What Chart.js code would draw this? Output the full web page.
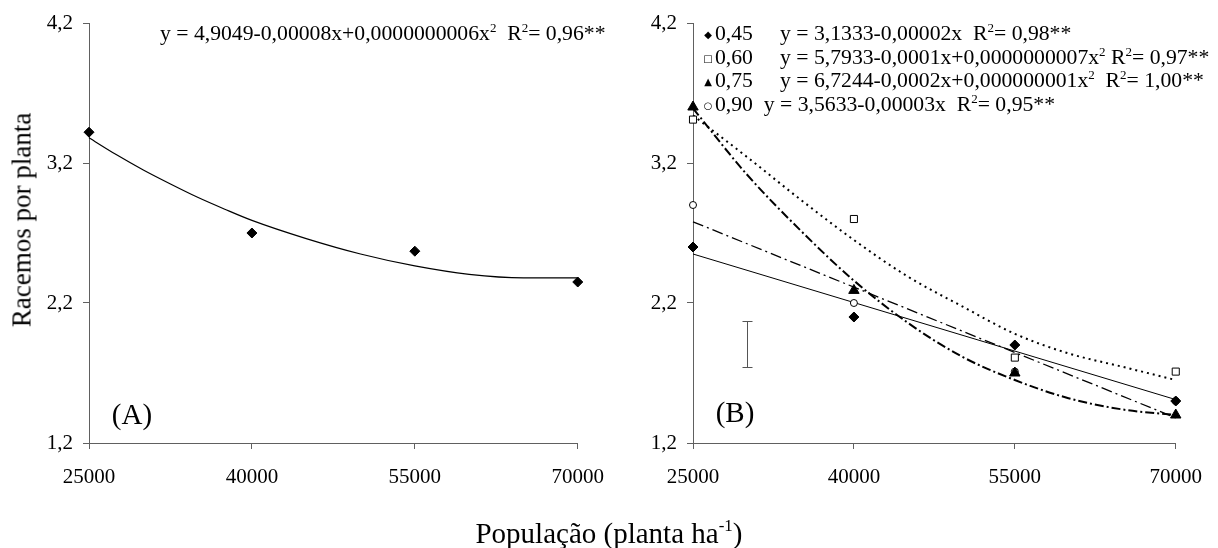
<!DOCTYPE html>
<html>
<head>
<meta charset="utf-8">
<script src="https://cdn.jsdelivr.net/npm/chart.js@4"></script>
<style>
  body { margin: 0; background: #fff; width: 1218px; height: 548px; position: relative; overflow: hidden;
         font-family: 'Liberation Serif', 'Times New Roman', serif; color: #000; }
  canvas { position: absolute; top: 0; }
  #cA { left: 0; }
  #cB { left: 620px; }
  .t { position: absolute; white-space: pre; font-size: 21.7px; line-height: 24px; }
  .t sup { font-size: 13px; vertical-align: 8px; line-height: 0; }
  .sym { display: inline-block; width: 14px; text-align: center; font-family: 'DejaVu Sans', sans-serif; font-size: 10px; vertical-align: 2px; }
  .titulo { position: absolute; white-space: pre; transform: translate(-50%, -50%); }
  .titulo sup { font-size: 17px; vertical-align: 12px; line-height: 0; }
  .painel { position: absolute; font-size: 29px; transform: translate(-50%, -50%); }
</style>
</head>
<body>
<canvas id="cA" width="620" height="548"></canvas>
<canvas id="cB" width="598" height="548"></canvas>

<div class="t" style="left:160px; top:21px">y = 4,9049-0,00008x+0,0000000006x<sup>2</sup>  R<sup>2</sup>= 0,96**</div>

<div class="t" style="left:701px; top:21px"><span class="sym">◆</span>0,45     y = 3,1333-0,00002x  R<sup>2</sup>= 0,98**</div>
<div class="t" style="left:701px; top:45px"><span class="sym">□</span>0,60     y = 5,7933-0,0001x+0,0000000007x<sup>2</sup> R<sup>2</sup>= 0,97**</div>
<div class="t" style="left:701px; top:68px"><span class="sym">▲</span>0,75     y = 6,7244-0,0002x+0,000000001x<sup>2</sup>  R<sup>2</sup>= 1,00**</div>
<div class="t" style="left:701px; top:92px"><span class="sym">○</span>0,90  y = 3,5633-0,00003x  R<sup>2</sup>= 0,95**</div>

<div class="painel" style="left:132px; top:414px">(A)</div>
<div class="painel" style="left:735px; top:412px">(B)</div>

<div class="titulo" style="left:22px; top:220px; font-size:27px; transform: translate(-50%, -50%) rotate(-90deg)">Racemos por planta</div>
<div class="titulo" style="left:609px; top:533px; font-size:29px">População (planta ha<sup>-1</sup>)</div>

<script>
const FONT = "'Liberation Serif', 'Times New Roman', serif"

// eixos
const xTicks = [25000, 40000, 55000, 70000]
const yTicks = [1.2, 2.2, 3.2, 4.2]

// (A) media geral
const populacao = [25000, 40000, 55000, 70000]
const racemosA = [3.42, 2.70, 2.57, 2.35]
const curvaAx = [25000, 27500, 30000, 32500, 35000, 37500, 40000, 45000, 50000, 55000, 60000, 65000, 70000]
const curvaAy = [3.38, 3.26, 3.15, 3.05, 2.955, 2.87, 2.79, 2.66, 2.55, 2.465, 2.405, 2.38, 2.38]

// (B) por espacamento
const racemos045 = [2.60, 2.10, 1.90, 1.50]
const racemos060 = [3.51, 2.80, 1.81, 1.71]
const racemos075 = [3.60, 2.29, 1.70, 1.40]
const racemos090 = [2.90, 2.20, 1.71, 1.50]

const retaX = [25000, 70000]
const tend045 = [2.55, 1.51]
const tend090 = [2.78, 1.38]
const curvaBx = [25000, 30000, 35000, 40000, 45000, 50000, 55000, 60000, 65000, 70000]
const tend060 = [3.54, 3.245, 2.94, 2.65, 2.39, 2.18, 1.98, 1.84, 1.745, 1.65]
const tend075 = [3.59, 3.12, 2.72, 2.36, 2.06, 1.82, 1.65, 1.52, 1.44, 1.40]

// barra de DMS
const erroX = 30000
const erroMin = 1.74
const erroMax = 2.07

function pts(xs, ys) {
    return xs.map((x, i) => ({ x: x, y: ys[i] }))
}

function escalas(yWidth) {
    return {
        x: {
            type: 'linear', min: 25000, max: 70000,
            afterBuildTicks: s => { s.ticks = xTicks.map(v => ({ value: v })) },
            afterFit: s => { s.height = 105 },
            grid: { drawOnChartArea: false, tickLength: 6, color: '#606060' },
            border: { color: '#606060' },
            ticks: { color: '#000', font: { family: FONT, size: 21 }, padding: 16, maxRotation: 0, autoSkip: false,
                     callback: v => String(v) }
        },
        y: {
            type: 'linear', min: 1.2, max: 4.2,
            afterBuildTicks: s => { s.ticks = yTicks.map(v => ({ value: v })) },
            afterFit: s => { s.width = yWidth },
            grid: { drawOnChartArea: false, tickLength: 6, color: '#606060' },
            border: { color: '#606060' },
            ticks: { color: '#000', font: { family: FONT, size: 21 }, padding: 10,
                     callback: v => v.toFixed(1).replace('.', ',') }
        }
    }
}

function marcas(data, style, radius, fill) {
    return { data: data, showLine: false, pointStyle: style, pointRadius: radius,
             pointBackgroundColor: fill, pointBorderColor: '#000', pointBorderWidth: 1, clip: false }
}

function linha(data, width, dash) {
    return { data: data, borderColor: '#000', borderWidth: width, borderDash: dash, pointRadius: 0,
             cubicInterpolationMode: 'monotone', fill: false, clip: false }
}

const opcoesBase = {
    responsive: false,
    animation: false,
    plugins: { legend: { display: false }, tooltip: { enabled: false } },
    events: []
}

new Chart(document.getElementById('cA'), {
    type: 'line',
    data: {
        datasets: [
            marcas(pts(populacao, racemosA), 'rectRot', 5, '#000'),
            linha(pts(curvaAx, curvaAy), 1.2, [])
        ]
    },
    options: Object.assign({}, opcoesBase, {
        layout: { padding: { top: 23, right: 37, left: 0, bottom: 0 } },
        scales: escalas(89)
    })
})

const barraErro = {
    id: 'barraErro',
    afterDatasetsDraw(chart) {
        const { ctx, scales: { x, y } } = chart
        const px = Math.round(x.getPixelForValue(erroX)) + 0.5
        const y1 = Math.round(y.getPixelForValue(erroMin)) + 0.5
        const y2 = Math.round(y.getPixelForValue(erroMax)) + 0.5
        ctx.save()
        ctx.strokeStyle = '#555'
        ctx.lineWidth = 1
        ctx.beginPath()
        ctx.moveTo(px, y1); ctx.lineTo(px, y2)
        ctx.moveTo(px - 5, y1); ctx.lineTo(px + 5, y1)
        ctx.moveTo(px - 5, y2); ctx.lineTo(px + 5, y2)
        ctx.stroke()
        ctx.restore()
    }
}

new Chart(document.getElementById('cB'), {
    type: 'line',
    data: {
        datasets: [
            marcas(pts(populacao, racemos045), 'rectRot', 5, '#000'),
            marcas(pts(populacao, racemos075), 'triangle', 6, '#000'),
            marcas(pts(populacao, racemos060), 'rect', 5, '#fff'),
            marcas(pts(populacao, racemos090), 'circle', 3.5, '#fff'),
            linha(pts(retaX, tend045), 1, []),
            linha(pts(curvaBx, tend060), 2, [2, 4]),
            linha(pts(curvaBx, tend075), 2, [9, 3, 2, 3]),
            linha(pts(retaX, tend090), 1.3, [11, 4, 2, 4])
        ]
    },
    options: Object.assign({}, opcoesBase, {
        layout: { padding: { top: 23, right: 29, left: 0, bottom: 0 } },
        scales: escalas(73)
    }),
    plugins: [barraErro]
})
</script>
</body>
</html>
